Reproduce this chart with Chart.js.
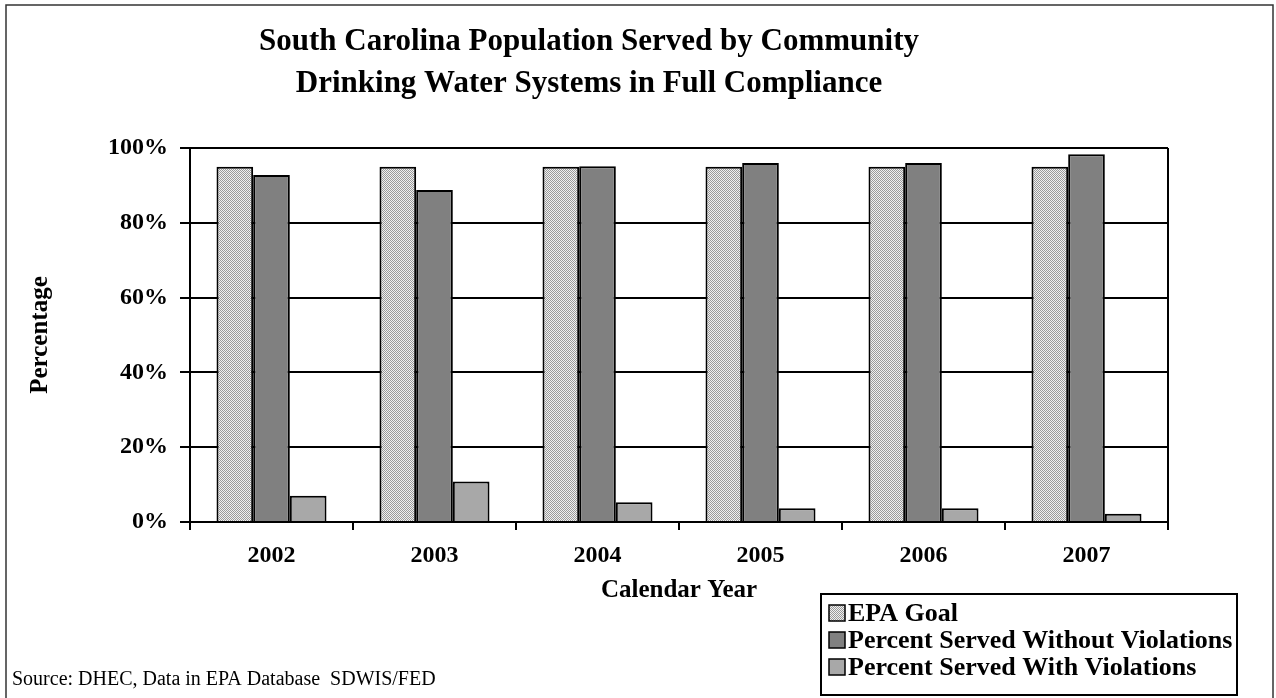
<!DOCTYPE html>
<html>
<head>
<meta charset="utf-8">
<script src="https://cdn.jsdelivr.net/npm/chart.js@4"></script>
<style>
  html, body { margin: 0; padding: 0; background: #fff; }
  #grafico { display: block; }
</style>
</head>
<body>
<canvas id="grafico" width="1276" height="698"></canvas>
<script>
// dados
const anos = ['2002', '2003', '2004', '2005', '2006', '2007'];
const metaEPA = [95, 95, 95, 95, 95, 95];
const semViolacoes = [92.8, 88.8, 95.1, 96.0, 96.0, 98.3];
const comViolacoes = [7.0, 10.8, 5.3, 3.7, 3.7, 2.2];
const rotulos = ['EPA Goal', 'Percent Served Without Violations', 'Percent Served With Violations'];
const tituloLinhas = ['South Carolina Population Served by Community', 'Drinking Water Systems in Full Compliance'];
const fonte = 'Source: DHEC, Data in EPA Database  SDWIS/FED';

const serif = '"Liberation Serif", "Times New Roman", serif';

// padrão pontilhado da meta EPA
function criarPadrao() {
    const c = document.createElement('canvas');
    c.width = 2; c.height = 2;
    const g = c.getContext('2d');
    g.fillStyle = '#f0f0f0';
    g.fillRect(0, 0, 2, 2);
    g.fillStyle = '#9a9a9a';
    g.fillRect(0, 0, 1, 1);
    g.fillRect(1, 1, 1, 1);
    return g.createPattern(c, 'repeat');
}

const ctx = document.getElementById('grafico').getContext('2d');
const padrao = criarPadrao();

// moldura, título, borda do gráfico, legenda e fonte
const extras = {
    id: 'extras',
    beforeDraw(chart) {
        const c = chart.ctx;
        c.save();
        c.fillStyle = '#fff';
        c.fillRect(0, 0, chart.width, chart.height);
        c.strokeStyle = '#333';
        c.lineWidth = 1.5;
        c.strokeRect(6, 5, 1267, 700);
        c.restore();
    },
    afterDraw(chart) {
        const c = chart.ctx;
        const area = chart.chartArea;
        c.save();
        // borda direita do gráfico
        c.strokeStyle = '#000';
        c.lineWidth = 2;
        c.beginPath();
        c.moveTo(area.right, area.top);
        c.lineTo(area.right, area.bottom);
        c.stroke();

        // título
        c.fillStyle = '#000';
        c.font = 'bold 31px ' + serif;
        c.textAlign = 'center';
        c.textBaseline = 'middle';
        c.fillText(tituloLinhas[0], 589, 42);
        c.fillText(tituloLinhas[1], 589, 84);

        // fonte dos dados
        c.font = '20px ' + serif;
        c.textAlign = 'left';
        c.fillText(fonte, 12, 680);

        // legenda
        c.lineWidth = 2;
        c.strokeStyle = '#000';
        c.strokeRect(821, 594, 416, 101);
        c.font = 'bold 26px ' + serif;
        chart.data.datasets.forEach((ds, i) => {
            const y = 613 + i * 27;
            c.fillStyle = ds.backgroundColor;
            c.fillRect(829, y - 8, 16, 16);
            c.lineWidth = 1.5;
            c.strokeRect(829, y - 8, 16, 16);
            c.fillStyle = '#000';
            c.fillText(ds.label, 848, y + 1);
        });
        c.restore();
    }
};

new Chart(ctx, {
    type: 'bar',
    data: {
        labels: anos,
        datasets: [{
            label: rotulos[0],
            data: metaEPA,
            backgroundColor: padrao,
            borderColor: '#000',
            borderWidth: 2
        }, {
            label: rotulos[1],
            data: semViolacoes,
            backgroundColor: '#808080',
            borderColor: '#000',
            borderWidth: 2
        }, {
            label: rotulos[2],
            data: comViolacoes,
            backgroundColor: '#a8a8a8',
            borderColor: '#000',
            borderWidth: 2
        }]
    },
    options: {
        responsive: false,
        animation: false,
        devicePixelRatio: 1,
        layout: {
            padding: { top: 148, left: 24, right: 108, bottom: 90 }
        },
        datasets: {
            bar: {
                categoryPercentage: 0.675,
                barPercentage: 1
            }
        },
        plugins: {
            legend: { display: false },
            title: { display: false },
            tooltip: { enabled: false }
        },
        scales: {
            x: {
                afterFit(scale) { scale.height = 86; },
                grid: {
                    drawOnChartArea: false,
                    drawTicks: true,
                    tickLength: 8,
                    color: '#000',
                    lineWidth: 2,
                    offset: true
                },
                border: { color: '#000', width: 2 },
                ticks: {
                    color: '#000',
                    padding: 11,
                    font: { family: serif, size: 24, weight: 'bold' }
                },
                title: {
                    display: true,
                    text: 'Calendar Year',
                    color: '#000',
                    padding: { top: 4, bottom: 2 },
                    font: { family: serif, size: 25, weight: 'bold' }
                }
            },
            y: {
                min: 0,
                max: 100,
                afterFit(scale) { scale.width = 166; },
                grid: {
                    color: '#000',
                    lineWidth: 2,
                    tickLength: 10
                },
                border: { color: '#000', width: 2 },
                ticks: {
                    stepSize: 20,
                    color: '#000',
                    padding: 12,
                    font: { family: serif, size: 24, weight: 'bold' },
                    callback: v => v + '%'
                },
                title: {
                    display: true,
                    text: 'Percentage',
                    color: '#000',
                    padding: { top: 2, bottom: 4 },
                    font: { family: serif, size: 25, weight: 'bold' }
                }
            }
        }
    },
    plugins: [extras]
});
</script>
</body>
</html>
